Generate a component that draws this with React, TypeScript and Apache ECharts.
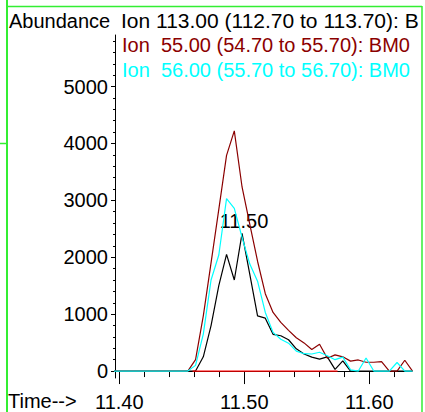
import React, { useEffect, useRef } from "react";
import * as echarts from "echarts";

// Scan times (minutes)
const times = [
  11.3928, 11.399, 11.4052, 11.4114, 11.4176, 11.4238, 11.43, 11.4362, 11.4424, 11.4486,
  11.4548, 11.461, 11.4672, 11.4734, 11.4796, 11.4858, 11.492, 11.4982, 11.5044, 11.5106,
  11.5168, 11.523, 11.5292, 11.5354, 11.5416, 11.5478, 11.554, 11.5602, 11.5664, 11.5726,
  11.5788, 11.585, 11.5912, 11.5974, 11.6036, 11.6098, 11.616, 11.6222, 11.6284, 11.6346,
];

// Ion 113.00 (black)
const ion113 = [
  0, 0, 0, 0, 0, 0, 0, 0, 0, 0,
  0, 0, 250, 800, 1500, 2050, 1600, 2420, 1700, 970,
  930, 645, 620, 550, 390, 300, 245, 210, 250, 30,
  180, 0, 0, 0, 0, 0, 0, 0, 0, 0,
];

// Ion 55.00 (dark red)
const ion55 = [
  0, 0, 0, 0, 0, 0, 0, 0, 0, 0,
  0, 200, 970, 1900, 2840, 3790, 4220, 3235, 2580, 1930,
  1360, 1030, 855, 715, 585, 495, 380, 470, 225, 285,
  250, 175, 195, 155, 155, 165, 0, 0, 190, 0,
];

// Ion 56.00 (cyan)
const ion56 = [
  0, 0, 0, 0, 0, 0, 0, 0, 0, 0,
  0, 100, 650, 1600, 2040, 3030, 2860, 2350, 1880, 1580,
  1030, 680, 560, 490, 350, 305, 300, 330, 270, 200,
  245, 20, 0, 230, 0, 0, 0, 150, 0, 0,
];

// Integration baseline (red)
const baselineTimes = [11.4586, 11.5746];
const baselineValues = [0, 0];

const xTicks = [11.4, 11.5, 11.6];
const xMinorTicks = [11.42, 11.44, 11.46, 11.48, 11.52, 11.54, 11.56, 11.58, 11.62];
const yTicks = [0, 1000, 2000, 3000, 4000, 5000];
const yMinorTicks = [
  200, 400, 600, 800, 1200, 1400, 1600, 1800, 2200, 2400, 2600, 2800,
  3200, 3400, 3600, 3800, 4200, 4400, 4600, 4800, 5200, 5400, 5600, 5800,
];

const headerLines = [
  { text: "Ion 113.00 (112.70 to 113.70): B", color: "#000000", size: 21 },
  { text: "Ion  55.00 (54.70 to 55.70): BM0", color: "#8b0000", size: 20 },
  { text: "Ion  56.00 (55.70 to 56.70): BM0", color: "#00ffff", size: 20 },
];

const FONT = "Liberation Sans, Arial, Helvetica, sans-serif";
const GREEN = "#33ee33";

export default function App() {
  const ref = useRef<HTMLDivElement>(null);

  useEffect(() => {
    if (!ref.current) return;
    const chart = echarts.init(ref.current, null, { renderer: "svg" });
    const xMin = 11.39656;
    const xMax = 11.63392;

    const txt = (
      text: string,
      x: number,
      y: number,
      color: string,
      align = "left",
      size = 20,
      lineHeight?: number
    ) => ({
      type: "text",
      x,
      y,
      silent: true,
      style: {
        text,
        fill: color,
        fontSize: size,
        fontFamily: FONT,
        align,
        verticalAlign: "middle",
        textAlign: align,
        textVerticalAlign: "middle",
        ...(lineHeight ? { lineHeight } : {}),
      },
    });
    const ln = (x1: number, y1: number, x2: number, y2: number, w: number) => ({
      type: "line",
      silent: true,
      shape: { x1, y1, x2, y2 },
      style: { stroke: GREEN, lineWidth: w },
    });

    chart.setOption({
      animation: false,
      backgroundColor: "#ffffff",
      grid: { left: 115, right: 13.3, top: 35, bottom: 31, containLabel: false },
      xAxis: [
        {
          type: "value",
          min: xMin,
          max: xMax,
          position: "bottom",
          axisLine: { show: true, lineStyle: { color: "#000", width: 1 } },
          axisTick: { show: true, customValues: xTicks, length: 13, lineStyle: { color: "#000", width: 1 } },
          axisLabel: {
            show: true,
            customValues: xTicks,
            formatter: (v: number) => v.toFixed(2),
            fontSize: 20,
            fontFamily: FONT,
            color: "#000",
            margin: 14,
          },
          splitLine: { show: false },
        },
        {
          type: "value",
          min: xMin,
          max: xMax,
          position: "bottom",
          axisLine: { show: false },
          axisTick: { show: true, customValues: xMinorTicks, length: 6, lineStyle: { color: "#000", width: 1 } },
          axisLabel: { show: false },
          splitLine: { show: false },
        },
      ],
      yAxis: [
        {
          type: "value",
          min: -122,
          max: 5906,
          position: "left",
          axisLine: { show: true, lineStyle: { color: "#000", width: 1 } },
          axisTick: { show: true, customValues: yTicks, length: 4, lineStyle: { color: "#000", width: 1 } },
          axisLabel: {
            show: true,
            customValues: yTicks,
            formatter: (v: number) => String(Math.round(v)),
            fontSize: 20,
            fontFamily: FONT,
            color: "#000",
            margin: 7,
          },
          splitLine: { show: false },
        },
        {
          type: "value",
          min: -122,
          max: 5906,
          position: "left",
          axisLine: { show: false },
          axisTick: { show: true, customValues: yMinorTicks, length: 2, lineStyle: { color: "#000", width: 1 } },
          axisLabel: { show: false },
          splitLine: { show: false },
        },
      ],
      series: [
        {
          type: "line",
          name: "Ion 113.00",
          data: times.map((t, i) => [t, ion113[i]]),
          symbol: "none",
          clip: true,
          lineStyle: { color: "#000000", width: 1.2 },
          xAxisIndex: 0,
          yAxisIndex: 0,
        },
        {
          type: "line",
          name: "Ion 55.00",
          data: times.map((t, i) => [t, ion55[i]]),
          symbol: "none",
          clip: true,
          lineStyle: { color: "#8b0000", width: 1.2 },
          xAxisIndex: 0,
          yAxisIndex: 0,
        },
        {
          type: "line",
          name: "Ion 56.00",
          data: times.map((t, i) => [t, ion56[i]]),
          symbol: "none",
          clip: true,
          lineStyle: { color: "#00ffff", width: 1.2 },
          xAxisIndex: 0,
          yAxisIndex: 0,
        },
        {
          type: "line",
          name: "Baseline",
          data: baselineTimes.map((t, i) => [t, baselineValues[i]]),
          symbol: "none",
          clip: true,
          lineStyle: { color: "#ff0000", width: 1.2 },
          xAxisIndex: 0,
          yAxisIndex: 0,
        },
      ],
      graphic: [
        ln(7, 0, 7, 412, 2),
        ln(7, 6.5, 422, 6.5, 1.5),
        ln(422, 6, 422, 412, 1.5),
        ln(0, 143.5, 7, 143.5, 1.5),
        txt("Abundance", 9, 20.6, "#000"),
        txt(headerLines[0].text, 121, 20.8, headerLines[0].color, "left", headerLines[0].size),
        txt(headerLines[1].text, 122, 44.8, headerLines[1].color, "left", headerLines[1].size),
        txt(headerLines[2].text, 122, 70.4, headerLines[2].color, "left", headerLines[2].size),
        txt("11.50", 244, 221, "#000", "center"),
        txt("Time-->", 8, 401, "#000", "left", 20, 20),
      ],
    });
    return () => chart.dispose();
  }, []);

  return (
    <div
      ref={ref}
      style={{ position: "absolute", left: 0, top: 0, width: 425, height: 412, background: "#fff" }}
    />
  );
}
